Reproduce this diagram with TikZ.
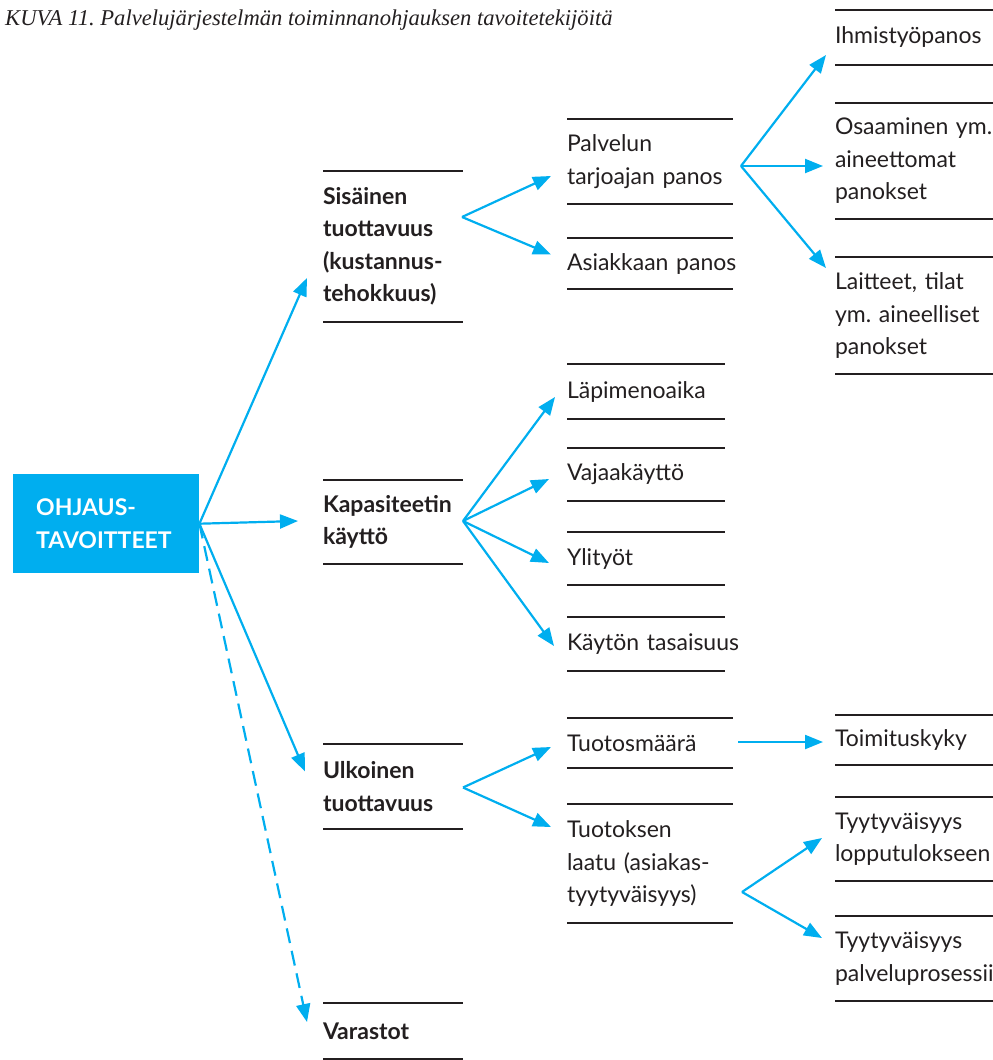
\documentclass[tikz,border=0pt]{standalone}
\usepackage{fontspec}
\setmainfont{Lato}
\newfontfamily\captionfont{Liberation Serif}
\usetikzlibrary{arrows.meta}
\definecolor{ohblue}{HTML}{00AEEF}
\definecolor{ink}{HTML}{231F20}
\frenchspacing
\hyphenpenalty=10000
\exhyphenpenalty=10000
\begin{document}
\begin{tikzpicture}[x=1pt,y=-1pt,
  blk/.style 2 args={anchor=north west, inner xsep=0pt, inner ysep=0pt, outer sep=0pt,
    text width=#1, minimum height=#2, align=left, text=ink,
    font=\fontsize{23}{32.5}\selectfont},
  hd/.style={font=\bfseries\fontsize{23}{32.5}\selectfont},
  rule/.style={draw=ink, line width=1.8pt},
  arr/.style={draw=ohblue, line width=2.2pt, -{Triangle[length=18pt,width=14pt]}},
  dasharr/.style={arr, dash pattern=on 15pt off 8pt}
]
\useasboundingbox (0,0) rectangle (993,1060);
\clip (0,0) rectangle (993,1060);

% caption
\node[anchor=base west, inner sep=0pt, text=ink,
  font=\captionfont\itshape\fontsize{22.6}{26}\selectfont] (caption) at (5,25)
  {KUVA 11. Palvelujärjestelmän toiminnanohjauksen tavoitetekijöitä};

% root box
\node[anchor=north west, fill=ohblue, minimum width=186pt, minimum height=99pt,
  text width=140pt, inner xsep=23pt, inner ysep=0pt, align=left, text=white,
  font=\bfseries\fontsize{23}{33}\selectfont] (goal) at (13,474) {OHJAUS-\\TAVOITTEET};

% second level
\node[blk={140pt}{151pt}, hd] (sis) at (323,171) {Sisäinen\\tuottavuus\\(kustannus-\\tehokkuus)};
\node[blk={140pt}{84pt}, hd]  (kap) at (323,480) {Kapasiteetin\\käyttö};
\node[blk={140pt}{85pt}, hd]  (ulk) at (323,744) {Ulkoinen\\tuottavuus};
\node[blk={140pt}{56pt}, hd]  (var) at (323,1003) {Varastot};

% third level
\node[blk={166pt}{85pt}]  (pal) at (567,119) {Palvelun\\tarjoajan~panos};
\node[blk={166pt}{51pt}]  (asi) at (567,238) {Asiakkaan~panos};
\node[blk={158pt}{55pt}]  (lap) at (567,364) {Läpimenoaika};
\node[blk={158pt}{53pt}]  (vaj) at (567,448) {Vajaakäyttö};
\node[blk={158pt}{53pt}]  (yli) at (567,532) {Ylityöt};
\node[blk={158pt}{54pt}]  (kay) at (567,617) {\mbox{Käytön tasaisuus}};
\node[blk={166pt}{50pt}]  (tm)  at (567,718) {Tuotosmäärä};
\node[blk={166pt}{119pt}] (tl)  at (567,804) {Tuotoksen\\laatu~(asiakas-\\tyytyväisyys)};

% fourth level
\node[blk={200pt}{55pt}]  (ihm) at (835,10)  {Ihmistyöpanos};
\node[blk={200pt}{116pt}] (osa) at (835,103) {Osaaminen~ym.\\aineettomat\\panokset};
\node[blk={200pt}{117pt}] (lai) at (835,257) {Laitteet,~tilat\\ym.~aineelliset\\panokset};
\node[blk={200pt}{50pt}]  (toi) at (835,715) {Toimituskyky};
\node[blk={200pt}{84pt}]  (ty1) at (835,797) {Tyytyväisyys\\lopputulokseen};
\node[blk={200pt}{85pt}]  (ty2) at (835,916) {Tyytyväisyys\\palveluprosessiin};

% rules above and below every item
\foreach \n in {sis,kap,ulk,var,pal,asi,lap,vaj,yli,kay,tm,tl,ihm,osa,lai,toi,ty1,ty2}
  \draw[rule] (\n.north west) -- (\n.north east) (\n.south west) -- (\n.south east);

% branching points
\coordinate (bs) at ([shift={(-1,-29.5)}]sis.east);
\coordinate (bk) at ([shift={(0,-1)}]kap.east);
\coordinate (bu) at ([shift={(0,1)}]ulk.east);
\coordinate (bp) at ([shift={(8,4.5)}]pal.east);
\coordinate (bt) at ([shift={(9,28.5)}]tl.east);

% from the root
\draw[arr] (goal.east) -- ([shift={(-16,31.5)}]sis.west);
\draw[arr] (goal.east) -- ([shift={(-25,-1)}]kap.west);
\draw[arr] (goal.east) -- ([shift={(-18,-15)}]ulk.west);
\draw[dasharr] (goal.east) -- ([shift={(-16,-9)}]var.west);

% internal productivity
\draw[arr] (bs) -- ([shift={(-16,14.5)}]pal.west);
\draw[arr] (bs) -- ([shift={(-16,-9)}]asi.west);
\draw[arr] (bp) -- ([shift={(-9,17.5)}]ihm.west);
\draw[arr] (bp) -- ([shift={(-12,5)}]osa.west);
\draw[arr] (bp) -- ([shift={(-9,-47.5)}]lai.west);

% capacity use
\draw[arr] (bk) -- ([shift={(-12,5.5)}]lap.west);
\draw[arr] (bk) -- ([shift={(-18,4.5)}]vaj.west);
\draw[arr] (bk) -- ([shift={(-18,4.5)}]yli.west);
\draw[arr] (bk) -- ([shift={(-13,2)}]kay.west);

% external productivity
\draw[arr] (bu) -- ([shift={(-16,4)}]tm.west);
\draw[arr] (bu) -- ([shift={(-16,-36.5)}]tl.west);
\draw[arr] ([shift={(5,-1)}]tm.east) -- ([shift={(-12,2)}]toi.west);
\draw[arr] (bt) -- ([shift={(-13,-1)}]ty1.west);
\draw[arr] (bt) -- ([shift={(-13,-20.5)}]ty2.west);
\end{tikzpicture}
\end{document}
